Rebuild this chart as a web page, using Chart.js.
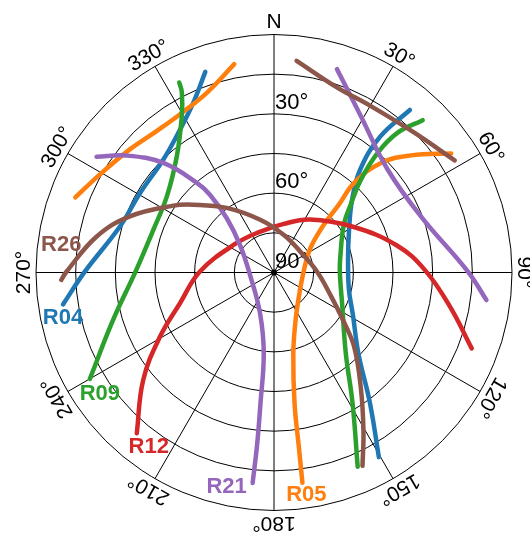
<!DOCTYPE html>
<html>
<head>
<meta charset="utf-8">
<script src="https://cdn.jsdelivr.net/npm/chart.js@4/dist/chart.umd.min.js"></script>
<style>
  html, body { margin: 0; padding: 0; background: #ffffff; }
  canvas { display: block; }
</style>
</head>
<body>
<canvas id="sky" width="530" height="535"></canvas>
<script>
// ---- Sky-plot data: azimuth (deg, clockwise from north) and elevation (deg) ----
const satellites = ['R04', 'R05', 'R09', 'R12', 'R21', 'R26'];
const satelliteColors = ['#1f77b4', '#ff7f0e', '#2ca02c', '#d62728', '#9467bd', '#8c564b'];

// R04
const r04PassA_az = [261.4, 270.2, 286.6, 300.7, 315.6, 326.7, 334.6, 341.1];
const r04PassA_el = [9.3, 18.4, 29.2, 31.1, 30.2, 25.3, 18.9, 9.8];
const r04PassB_az = [39.9, 38.0, 40.0, 47.1, 60.5, 80.4, 103.1, 118.3, 133.8, 143.7, 150.4];
const r04PassB_el = [9.9, 24.8, 39.4, 49.7, 57.4, 61.6, 60.9, 56.1, 45.8, 28.7, 9.7];

// R05
const r05PassA_az = [172.3, 171.9, 171.1, 166.6, 157.4, 136.5, 88.4, 56.3, 46.2, 43.7, 41.8, 44.3, 49.5, 56.1];
const r05PassA_el = [9.8, 23.2, 39.7, 58.5, 69.1, 76.5, 78.8, 73.5, 64.0, 54.5, 44.5, 32.1, 21.8, 9.3];
const r05PassB_az = [290.7, 299.3, 310.5, 320.3, 329.3, 339.6, 349.2];
const r05PassB_el = [9.7, 14.4, 18.3, 20.5, 20.4, 17.4, 9.8];

// R09
const r09PassA_az = [240.0, 253.5, 270.8, 289.5, 305.4, 320.1, 329.5, 332.9, 333.5];
const r09PassA_el = [9.6, 26.5, 37.8, 41.6, 40.3, 32.7, 21.3, 13.5, 9.7];
const r09PassB_az = [44.3, 41.5, 40.9, 43.1, 48.5, 55.6, 75.2, 89.3, 115.6, 138.5, 149.1, 156.7];
const r09PassB_el = [9.5, 19.4, 30.1, 41.9, 51.3, 58.0, 64.0, 65.1, 61.4, 49.0, 32.1, 10.0];

// R12
const r12PassA_az = [220.5, 230.6, 240.6, 251.9, 270.8, 307.3, 340.7, 10.5, 34.2, 59.9, 77.6, 89.1, 101.0, 111.0];
const r12PassA_el = [10.1, 26.0, 40.5, 52.6, 62.0, 71.9, 73.7, 71.4, 65.8, 55.5, 42.4, 32.9, 22.2, 9.9];

// R21
const r21PassA_az = [185.8, 185.6, 185.9, 187.2, 198.7, 264.0, 309.1, 319.0, 320.5, 319.3, 314.7, 308.4, 303.1];
const r21PassA_el = [10.0, 24.8, 40.1, 59.1, 73.6, 80.9, 73.4, 62.7, 51.9, 45.3, 31.1, 18.8, 9.9];
const r21PassB_az = [17.2, 29.0, 47.8, 69.2, 89.8, 97.4];
const r21PassB_el = [9.5, 22.3, 32.0, 30.5, 16.6, 9.0];

// R26
const r26PassA_az = [268.0, 270.2, 281.4, 291.3, 303.6, 310.0, 323.7, 345.3, 14.2, 51.6, 88.9, 111.8, 125.3, 132.9, 142.9, 150.5, 155.4];
const r26PassA_el = [9.5, 11.5, 21.5, 31.5, 44.3, 50.1, 59.7, 69.4, 75.3, 77.3, 73.7, 67.0, 57.6, 48.6, 35.6, 21.3, 9.6];
const r26PassB_az = [6.1, 18.9, 30.2, 45.1, 58.2];
const r26PassB_el = [9.5, 16.1, 17.2, 15.1, 9.6];

// Passes per satellite (the first pass carries the satellite label at its first point)
const satellitePasses = {
  R04: [[r04PassA_az, r04PassA_el], [r04PassB_az, r04PassB_el]],
  R05: [[r05PassA_az, r05PassA_el], [r05PassB_az, r05PassB_el]],
  R09: [[r09PassA_az, r09PassA_el], [r09PassB_az, r09PassB_el]],
  R12: [[r12PassA_az, r12PassA_el]],
  R21: [[r21PassA_az, r21PassA_el], [r21PassB_az, r21PassB_el]],
  R26: [[r26PassA_az, r26PassA_el], [r26PassB_az, r26PassB_el]]
};

// Grid ticks
const azimuthTicks = [0, 30, 60, 90, 120, 150, 180, 210, 240, 270, 300, 330];
const azimuthTickLabels = ['N', '30°', '60°', '90°', '120°', '150°', '180°', '210°', '240°', '270°', '300°', '330°'];
const elevationRings = [0, 15, 30, 45, 60, 75];
const elevationTicks = [30, 60, 90];
const elevationTickLabels = ['30°', '60°', '90°'];

// ---- Layout ----
const CENTER_X = 274, CENTER_Y = 272.5, PLOT_RADIUS = 238;
const W = 530, H = 535;
const PX_PER_DEG = PLOT_RADIUS / 90;
const FONT = '"Liberation Sans", Arial, Helvetica, sans-serif';

// label offsets (px) from the first point of each satellite's first pass
const labelOffsets = {
  R04: [0, 14], R05: [4, 12], R09: [10, 15], R12: [12, 14], R21: [-26, 4], R26: [0, -35]
};

// polar (azimuth, elevation) -> plane coordinates in zenith-angle degrees
function toPlane(az, el) {
  const z = 90 - el;
  const a = az * Math.PI / 180;
  return { x: z * Math.sin(a), y: z * Math.cos(a) };
}

const datasets = [];
satellites.forEach((sat, i) => {
  satellitePasses[sat].forEach(([azs, els], p) => {
    datasets.push({
      label: p === 0 ? sat : sat + ' (2)',
      data: azs.map((az, k) => toPlane(az, els[k])),
      showLine: true,
      borderColor: satelliteColors[i],
      backgroundColor: satelliteColors[i],
      borderWidth: 4.5,
      borderCapStyle: 'round',
      borderJoinStyle: 'round',
      pointRadius: 0,
      pointHoverRadius: 0,
      tension: 0.4,
      fill: false,
      order: satellites.length - i
    });
  });
});

const skyGrid = {
  id: 'skyGrid',
  beforeDatasetsDraw(chart) {
    const { ctx, scales: { x, y } } = chart;
    const cx = x.getPixelForValue(0);
    const cy = y.getPixelForValue(0);
    const rad = el => x.getPixelForValue(90 - el) - cx;
    const outer = rad(0);
    ctx.save();
    ctx.strokeStyle = '#000';
    ctx.lineWidth = 1;
    elevationRings.forEach(el => {
      ctx.beginPath();
      ctx.arc(cx, cy, rad(el), 0, Math.PI * 2);
      ctx.stroke();
    });
    azimuthTicks.forEach(az => {
      const a = az * Math.PI / 180;
      ctx.beginPath();
      ctx.moveTo(cx, cy);
      ctx.lineTo(cx + outer * Math.sin(a), cy - outer * Math.cos(a));
      ctx.stroke();
    });
    ctx.fillStyle = '#000';
    ctx.beginPath();
    ctx.arc(cx, cy, 3, 0, Math.PI * 2);
    ctx.fill();

    // azimuth labels, rotated tangentially
    ctx.font = '21px ' + FONT;
    ctx.textAlign = 'center';
    ctx.textBaseline = 'middle';
    const lr = outer + 13;
    azimuthTicks.forEach((az, k) => {
      const a = az * Math.PI / 180;
      ctx.save();
      ctx.translate(cx + lr * Math.sin(a), cy - lr * Math.cos(a));
      ctx.rotate(a);
      ctx.fillText(azimuthTickLabels[k], 0, 1);
      ctx.restore();
    });

    // elevation labels along the north spoke
    ctx.font = '22px ' + FONT;
    ctx.textAlign = 'left';
    ctx.textBaseline = 'alphabetic';
    elevationTicks.forEach((el, k) => {
      ctx.fillText(elevationTickLabels[k], cx + 1, cy - rad(el) - 5);
    });
    ctx.restore();
  },
  afterDatasetsDraw(chart) {
    const { ctx, scales: { x, y } } = chart;
    ctx.save();
    ctx.font = 'bold 22px ' + FONT;
    ctx.textAlign = 'center';
    ctx.textBaseline = 'middle';
    satellites.forEach((sat, i) => {
      const [azs, els] = satellitePasses[sat][0];
      const pt = toPlane(azs[0], els[0]);
      const off = labelOffsets[sat];
      ctx.fillStyle = satelliteColors[i];
      ctx.fillText(sat, x.getPixelForValue(pt.x) + off[0], y.getPixelForValue(pt.y) + off[1]);
    });
    ctx.restore();
  }
};

new Chart(document.getElementById('sky'), {
  type: 'scatter',
  data: { datasets },
  options: {
    responsive: false,
    animation: false,
    devicePixelRatio: 1,
    layout: { padding: 0 },
    plugins: { legend: { display: false }, tooltip: { enabled: false } },
    scales: {
      x: { type: 'linear', display: false, min: -CENTER_X / PX_PER_DEG, max: (W - CENTER_X) / PX_PER_DEG },
      y: { type: 'linear', display: false, min: -(H - CENTER_Y) / PX_PER_DEG, max: CENTER_Y / PX_PER_DEG }
    }
  },
  plugins: [skyGrid]
});
</script>
</body>
</html>
